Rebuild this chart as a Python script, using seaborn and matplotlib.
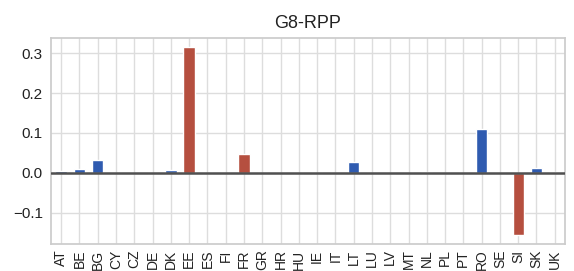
import matplotlib
matplotlib.use("Agg")
import matplotlib.pyplot as plt
import seaborn as sns
import pandas as pd

countries = ["AT", "BE", "BG", "CY", "CZ", "DE", "DK", "EE", "ES", "FI", "FR", "GR", "HR", "HU",
             "IE", "IT", "LT", "LU", "LV", "MT", "NL", "PL", "PT", "RO", "SE", "SI", "SK", "UK"]
values = [0.004, 0.010, 0.031, 0.0, 0.0, 0.0, 0.006, 0.315, 0.0, 0.0, 0.048, 0.0, 0.0, 0.0,
          0.0, 0.0, 0.028, 0.0, 0.0, 0.0, 0.002, 0.0, 0.0, 0.109, 0.0, -0.155, 0.012, 0.003]
groups = ["b", "b", "b", "b", "b", "b", "b", "r", "b", "b", "r", "b", "b", "b",
          "b", "b", "b", "b", "b", "b", "b", "b", "b", "b", "b", "r", "b", "b"]
title = "G8-RPP"

df = pd.DataFrame({"country": countries, "value": values, "group": groups})

sns.set_theme(style="whitegrid")
plt.rcParams["font.family"] = ["Liberation Sans", "DejaVu Sans"]

fig = plt.figure(figsize=(5.74, 2.71), dpi=100)
ax = fig.add_axes([0.089, 0.100, 0.895, 0.760])

palette = {"b": "#2f5bb0", "r": "#b54f3f"}
sns.barplot(data=df, x="country", y="value", hue="group", palette=palette,
            dodge=False, width=0.62, legend=False, ax=ax, saturation=1)

ax.axhline(0, color="#505050", lw=1.8, zorder=3)
ax.set_xlim(-0.55, len(countries) - 0.45)
ax.set_ylim(-0.1785, 0.3385)
ax.set_yticks([-0.1, 0.0, 0.1, 0.2, 0.3])
ax.set_yticklabels(["\u22120.1", "0.0", "0.1", "0.2", "0.3"])
ax.set_xticks(range(len(countries)))
ax.set_xticklabels(countries, rotation=90)
ax.tick_params(axis="y", labelsize=11, length=0, pad=6, colors="#222222")
ax.tick_params(axis="x", labelsize=10, length=0, pad=4, colors="#222222")
ax.grid(True, axis="both", color="#dddddd", lw=1.0)
ax.set_axisbelow(True)
for s in ax.spines.values():
    s.set_color("#cccccc")
ax.set_xlabel("")
ax.set_ylabel("")
ax.set_title(title, fontsize=13, color="#222222", pad=7)

fig.savefig("out.png", dpi=100)
